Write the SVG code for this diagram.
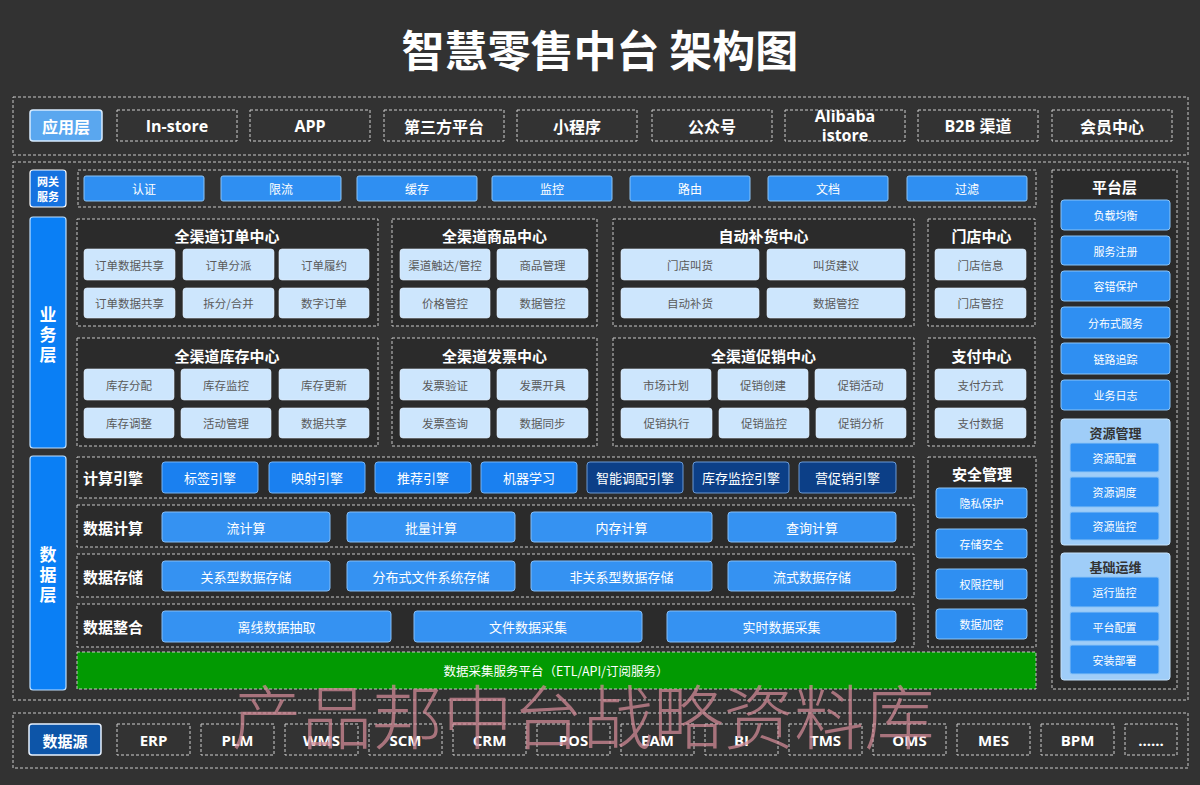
<svg xmlns="http://www.w3.org/2000/svg" width="1200" height="785" viewBox="0 0 1200 785">
<style>
text{font-family:"Noto Sans CJK SC","Open Sans",sans-serif;text-anchor:middle;dominant-baseline:central}
.lat{font-family:"Open Sans","Noto Sans CJK SC",sans-serif}
.dash{fill:none;stroke:#c8c8c8;stroke-width:1;stroke-dasharray:3 2}
.dbox{fill:#2b2b2b;stroke:#c8c8c8;stroke-width:1;stroke-dasharray:3 2}
.app{fill:#333;stroke:#cfcfcf;stroke-width:1;stroke-dasharray:3 2}
.appt{fill:#fff;font-size:16px;font-weight:700}
.gw{fill:#2f8ff2;stroke:#8cc4f7;stroke-width:1}
.wt{fill:#fff;font-size:12px}
.lt{fill:#cde6fd;stroke:#e6f2ff;stroke-width:0.6}
.ltt{fill:#5a5a5a;font-size:11.5px}
.ctitle{fill:#fff;font-size:15px;font-weight:700}
.rowlab{fill:#fff;font-size:15px;font-weight:700}
.eng{fill:#1a80f0;stroke:#75b3f5;stroke-width:1}
.engd{fill:#0c3f87;stroke:#6a9ad6;stroke-width:1}
.dat{fill:#3592f2;stroke:#85bdf6;stroke-width:1}
.panel{fill:#9fcdf8;stroke:#c5e2fb;stroke-width:1}
.pt{fill:#fff;font-size:11px}
</style>
<rect x="0" y="0" width="1200" height="785" fill="#323232"/>

<text id="title" x="600" y="48" style="fill:#fff;font-size:43px;font-weight:700">智慧零售中台 架构图</text>

<!-- application layer -->
<g id="app-layer">
<rect class="dash" x="13" y="97" width="1175" height="58"/>
<rect x="30" y="110" width="72" height="31" rx="3" fill="#5aa7ef" stroke="#d8ecff" stroke-width="1.5"/>
<text x="66" y="126" style="fill:#fff;font-size:16px;font-weight:700">应用层</text>
<g id="app-instore"><rect class="app" x="117" y="110" width="120" height="31"/><text class="appt lat" x="177" y="126">In-store</text></g>
<g id="app-app"><rect class="app" x="250" y="110" width="120" height="31"/><text class="appt lat" x="310" y="126">APP</text></g>
<g id="app-3rd"><rect class="app" x="384" y="110" width="120" height="31"/><text class="appt" x="444" y="126">第三方平台</text></g>
<g id="app-mini"><rect class="app" x="517" y="110" width="120" height="31"/><text class="appt" x="577" y="126">小程序</text></g>
<g id="app-gzh"><rect class="app" x="652" y="110" width="120" height="31"/><text class="appt" x="712" y="126">公众号</text></g>
<g id="app-ali"><rect class="app" x="785" y="110" width="120" height="31"/><text class="appt lat" x="845" y="116">Alibaba</text><text class="appt lat" x="845" y="135">istore</text></g>
<g id="app-b2b"><rect class="app" x="918" y="110" width="120" height="31"/><text class="appt lat" x="978" y="126">B2B 渠道</text></g>
<g id="app-member"><rect class="app" x="1052" y="110" width="120" height="31"/><text class="appt" x="1112" y="126">会员中心</text></g>
</g>

<!-- middle outer -->
<rect class="dash" x="13" y="162" width="1175" height="538"/>

<!-- gateway -->
<g id="gateway">
<rect x="30" y="170" width="36" height="37" rx="3" fill="#1572e0" stroke="#ffffff" stroke-width="1.2"/>
<text x="48" y="181" style="fill:#fff;font-size:11px;font-weight:700">网关</text>
<text x="48" y="196" style="fill:#fff;font-size:11px;font-weight:700">服务</text>
<rect class="dash" x="78" y="170" width="958" height="37"/>
<rect class="gw" x="84" y="176" width="120" height="25" rx="2"/><text class="wt" x="144" y="188.5">认证</text>
<rect class="gw" x="221" y="176" width="120" height="25" rx="2"/><text class="wt" x="281" y="188.5">限流</text>
<rect class="gw" x="357" y="176" width="120" height="25" rx="2"/><text class="wt" x="417" y="188.5">缓存</text>
<rect class="gw" x="492" y="176" width="120" height="25" rx="2"/><text class="wt" x="552" y="188.5">监控</text>
<rect class="gw" x="630" y="176" width="120" height="25" rx="2"/><text class="wt" x="690" y="188.5">路由</text>
<rect class="gw" x="768" y="176" width="120" height="25" rx="2"/><text class="wt" x="828" y="188.5">文档</text>
<rect class="gw" x="907" y="176" width="120" height="25" rx="2"/><text class="wt" x="967" y="188.5">过滤</text>
</g>

<!-- business layer label -->
<g id="biz-label">
<rect x="30" y="217" width="36" height="231" rx="3" fill="#0a7ff5" stroke="#bfe0ff" stroke-width="1.2"/>
<text x="48" y="313" style="fill:#fff;font-size:17px;font-weight:700">业</text>
<text x="48" y="333" style="fill:#fff;font-size:17px;font-weight:700">务</text>
<text x="48" y="353" style="fill:#fff;font-size:17px;font-weight:700">层</text>
</g>

<g id="order-center">
<rect class="dbox" x="77" y="219" width="301" height="107"/>
<text class="ctitle" x="227" y="235">全渠道订单中心</text>
<rect class="lt" x="84" y="249" width="91" height="31" rx="3"/><text class="ltt" x="129.5" y="265">订单数据共享</text>
<rect class="lt" x="183" y="249" width="91" height="31" rx="3"/><text class="ltt" x="228.5" y="265">订单分派</text>
<rect class="lt" x="279" y="249" width="90" height="31" rx="3"/><text class="ltt" x="324" y="265">订单履约</text>
<rect class="lt" x="84" y="288" width="91" height="30" rx="3"/><text class="ltt" x="129.5" y="303">订单数据共享</text>
<rect class="lt" x="183" y="288" width="91" height="30" rx="3"/><text class="ltt" x="228.5" y="303">拆分/合并</text>
<rect class="lt" x="279" y="288" width="90" height="30" rx="3"/><text class="ltt" x="324" y="303">数字订单</text>
</g>

<g id="goods-center">
<rect class="dbox" x="392" y="219" width="205" height="107"/>
<text class="ctitle" x="494.5" y="235">全渠道商品中心</text>
<rect class="lt" x="400" y="249" width="90" height="31" rx="3"/><text class="ltt" x="445" y="265">渠道触达/管控</text>
<rect class="lt" x="497" y="249" width="91" height="31" rx="3"/><text class="ltt" x="542.5" y="265">商品管理</text>
<rect class="lt" x="400" y="288" width="90" height="30" rx="3"/><text class="ltt" x="445" y="303">价格管控</text>
<rect class="lt" x="497" y="288" width="91" height="30" rx="3"/><text class="ltt" x="542.5" y="303">数据管控</text>
</g>

<g id="replenish-center">
<rect class="dbox" x="613" y="219" width="301" height="107"/>
<text class="ctitle" x="763.5" y="235">自动补货中心</text>
<rect class="lt" x="621" y="249" width="138" height="31" rx="3"/><text class="ltt" x="690" y="265">门店叫货</text>
<rect class="lt" x="767" y="249" width="138" height="31" rx="3"/><text class="ltt" x="836" y="265">叫货建议</text>
<rect class="lt" x="621" y="288" width="138" height="30" rx="3"/><text class="ltt" x="690" y="303">自动补货</text>
<rect class="lt" x="767" y="288" width="138" height="30" rx="3"/><text class="ltt" x="836" y="303">数据管控</text>
</g>

<g id="store-center">
<rect class="dbox" x="928" y="219" width="107" height="107"/>
<text class="ctitle" x="981.5" y="235">门店中心</text>
<rect class="lt" x="935" y="249" width="91" height="31" rx="3"/><text class="ltt" x="980.5" y="265">门店信息</text>
<rect class="lt" x="935" y="288" width="91" height="30" rx="3"/><text class="ltt" x="980.5" y="303">门店管控</text>
</g>

<g id="stock-center">
<rect class="dbox" x="77" y="338" width="301" height="108"/>
<text class="ctitle" x="227" y="355">全渠道库存中心</text>
<rect class="lt" x="84" y="369" width="90" height="31" rx="3"/><text class="ltt" x="129" y="385">库存分配</text>
<rect class="lt" x="181" y="369" width="90" height="31" rx="3"/><text class="ltt" x="226" y="385">库存监控</text>
<rect class="lt" x="279" y="369" width="90" height="31" rx="3"/><text class="ltt" x="324" y="385">库存更新</text>
<rect class="lt" x="84" y="408" width="90" height="30" rx="3"/><text class="ltt" x="129" y="423">库存调整</text>
<rect class="lt" x="181" y="408" width="90" height="30" rx="3"/><text class="ltt" x="226" y="423">活动管理</text>
<rect class="lt" x="279" y="408" width="90" height="30" rx="3"/><text class="ltt" x="324" y="423">数据共享</text>
</g>

<g id="invoice-center">
<rect class="dbox" x="392" y="338" width="205" height="108"/>
<text class="ctitle" x="494.5" y="355">全渠道发票中心</text>
<rect class="lt" x="400" y="369" width="90" height="31" rx="3"/><text class="ltt" x="445" y="385">发票验证</text>
<rect class="lt" x="497" y="369" width="91" height="31" rx="3"/><text class="ltt" x="542.5" y="385">发票开具</text>
<rect class="lt" x="400" y="408" width="90" height="30" rx="3"/><text class="ltt" x="445" y="423">发票查询</text>
<rect class="lt" x="497" y="408" width="91" height="30" rx="3"/><text class="ltt" x="542.5" y="423">数据同步</text>
</g>

<g id="promo-center">
<rect class="dbox" x="613" y="338" width="301" height="108"/>
<text class="ctitle" x="763.5" y="355">全渠道促销中心</text>
<rect class="lt" x="621" y="369" width="90" height="31" rx="3"/><text class="ltt" x="666" y="385">市场计划</text>
<rect class="lt" x="718" y="369" width="90" height="31" rx="3"/><text class="ltt" x="763" y="385">促销创建</text>
<rect class="lt" x="815" y="369" width="91" height="31" rx="3"/><text class="ltt" x="860.5" y="385">促销活动</text>
<rect class="lt" x="621" y="408" width="91" height="30" rx="3"/><text class="ltt" x="666.5" y="423">促销执行</text>
<rect class="lt" x="719" y="408" width="90" height="30" rx="3"/><text class="ltt" x="764" y="423">促销监控</text>
<rect class="lt" x="816" y="408" width="90" height="30" rx="3"/><text class="ltt" x="861" y="423">促销分析</text>
</g>

<g id="pay-center">
<rect class="dbox" x="928" y="338" width="107" height="108"/>
<text class="ctitle" x="981.5" y="355">支付中心</text>
<rect class="lt" x="935" y="369" width="91" height="31" rx="3"/><text class="ltt" x="980.5" y="385">支付方式</text>
<rect class="lt" x="935" y="408" width="91" height="30" rx="3"/><text class="ltt" x="980.5" y="423">支付数据</text>
</g>

<!-- data layer label -->
<g id="data-label">
<rect x="30" y="456" width="36" height="234" rx="3" fill="#0a7ff5" stroke="#bfe0ff" stroke-width="1.2"/>
<text x="48" y="553" style="fill:#fff;font-size:17px;font-weight:700">数</text>
<text x="48" y="573" style="fill:#fff;font-size:17px;font-weight:700">据</text>
<text x="48" y="593" style="fill:#fff;font-size:17px;font-weight:700">层</text>
</g>

<g id="compute-engine">
<rect class="dbox" x="77" y="457" width="837" height="41"/>
<text class="rowlab" x="113" y="477">计算引擎</text>
<rect class="eng" x="162" y="462" width="96" height="31" rx="3"/><text class="wt" x="210" y="477.5" style="font-size:13px">标签引擎</text>
<rect class="eng" x="269" y="462" width="96" height="31" rx="3"/><text class="wt" x="317" y="477.5" style="font-size:13px">映射引擎</text>
<rect class="eng" x="375" y="462" width="96" height="31" rx="3"/><text class="wt" x="423" y="477.5" style="font-size:13px">推荐引擎</text>
<rect class="eng" x="481" y="462" width="96" height="31" rx="3"/><text class="wt" x="529" y="477.5" style="font-size:13px">机器学习</text>
<rect class="engd" x="587" y="462" width="96" height="31" rx="3"/><text class="wt" x="635" y="477.5" style="font-size:13px">智能调配引擎</text>
<rect class="engd" x="693" y="462" width="96" height="31" rx="3"/><text class="wt" x="741" y="477.5" style="font-size:13px">库存监控引擎</text>
<rect class="engd" x="799" y="462" width="97" height="31" rx="3"/><text class="wt" x="847.5" y="477.5" style="font-size:13px">营促销引擎</text>
</g>

<g id="data-compute">
<rect class="dbox" x="77" y="505" width="837" height="42"/>
<text class="rowlab" x="113" y="527">数据计算</text>
<rect class="dat" x="162" y="512" width="168" height="30" rx="3"/><text class="wt" x="246" y="527" style="font-size:13px">流计算</text>
<rect class="dat" x="347" y="512" width="168" height="30" rx="3"/><text class="wt" x="431" y="527" style="font-size:13px">批量计算</text>
<rect class="dat" x="531" y="512" width="181" height="30" rx="3"/><text class="wt" x="621.5" y="527" style="font-size:13px">内存计算</text>
<rect class="dat" x="728" y="512" width="168" height="30" rx="3"/><text class="wt" x="812" y="527" style="font-size:13px">查询计算</text>
</g>

<g id="data-storage">
<rect class="dbox" x="77" y="554" width="837" height="43"/>
<text class="rowlab" x="113" y="576">数据存储</text>
<rect class="dat" x="162" y="561" width="168" height="30" rx="3"/><text class="wt" x="246" y="576" style="font-size:13px">关系型数据存储</text>
<rect class="dat" x="347" y="561" width="168" height="30" rx="3"/><text class="wt" x="431" y="576" style="font-size:13px">分布式文件系统存储</text>
<rect class="dat" x="531" y="561" width="181" height="30" rx="3"/><text class="wt" x="621.5" y="576" style="font-size:13px">非关系型数据存储</text>
<rect class="dat" x="728" y="561" width="168" height="30" rx="3"/><text class="wt" x="812" y="576" style="font-size:13px">流式数据存储</text>
</g>

<g id="data-integration">
<rect class="dbox" x="77" y="604" width="837" height="43"/>
<text class="rowlab" x="113" y="626">数据整合</text>
<rect class="dat" x="162" y="611" width="229" height="31" rx="3"/><text class="wt" x="276.5" y="626.5" style="font-size:13px">离线数据抽取</text>
<rect class="dat" x="414" y="611" width="228" height="31" rx="3"/><text class="wt" x="528" y="626.5" style="font-size:13px">文件数据采集</text>
<rect class="dat" x="667" y="611" width="229" height="31" rx="3"/><text class="wt" x="781.5" y="626.5" style="font-size:13px">实时数据采集</text>
</g>

<g id="collect-platform">
<rect x="77" y="652" width="959" height="37" fill="#029a02" stroke="#c8c8c8" stroke-width="1" stroke-dasharray="3 2"/>
<text class="wt" x="556" y="670.5" style="font-size:12.5px">数据采集服务平台（ETL/API/订阅服务）</text>
</g>

<g id="security">
<rect class="dbox" x="928" y="457" width="108" height="190"/>
<text class="ctitle" x="982" y="473">安全管理</text>
<rect class="gw" x="936" y="488" width="91" height="30" rx="3"/><text class="pt" x="981.5" y="503">隐私保护</text>
<rect class="gw" x="936" y="529" width="91" height="29" rx="3"/><text class="pt" x="981.5" y="543.5">存储安全</text>
<rect class="gw" x="936" y="569" width="91" height="30" rx="3"/><text class="pt" x="981.5" y="584">权限控制</text>
<rect class="gw" x="936" y="609" width="91" height="30" rx="3"/><text class="pt" x="981.5" y="624">数据加密</text>
</g>

<g id="platform-layer">
<rect class="dbox" x="1052" y="170" width="125" height="519"/>
<text class="ctitle" x="1114.5" y="186">平台层</text>
<rect class="gw" x="1061" y="200" width="109" height="30" rx="3"/><text class="pt" x="1115.5" y="215">负载均衡</text>
<rect class="gw" x="1061" y="236" width="109" height="29" rx="3"/><text class="pt" x="1115.5" y="250.5">服务注册</text>
<rect class="gw" x="1061" y="271" width="109" height="30" rx="3"/><text class="pt" x="1115.5" y="286">容错保护</text>
<rect class="gw" x="1061" y="307" width="109" height="31" rx="3"/><text class="pt" x="1115.5" y="322.5">分布式服务</text>
<rect class="gw" x="1061" y="343" width="109" height="31" rx="3"/><text class="pt" x="1115.5" y="358.5">链路追踪</text>
<rect class="gw" x="1061" y="380" width="109" height="30" rx="3"/><text class="pt" x="1115.5" y="395">业务日志</text>
<g id="resource-mgmt">
<rect class="panel" x="1061" y="419" width="109" height="126" rx="3"/>
<text x="1115.5" y="432" style="fill:#333;font-size:13px;font-weight:700">资源管理</text>
<rect class="gw" x="1070" y="443" width="89" height="29" rx="2"/><text class="pt" x="1114.5" y="457.5">资源配置</text>
<rect class="gw" x="1070" y="477" width="89" height="30" rx="2"/><text class="pt" x="1114.5" y="492">资源调度</text>
<rect class="gw" x="1070" y="512" width="89" height="28" rx="2"/><text class="pt" x="1114.5" y="526">资源监控</text>
</g>
<g id="ops">
<rect class="panel" x="1061" y="553" width="109" height="127" rx="3"/>
<text x="1115.5" y="566" style="fill:#333;font-size:13px;font-weight:700">基础运维</text>
<rect class="gw" x="1070" y="577" width="89" height="30" rx="2"/><text class="pt" x="1114.5" y="592">运行监控</text>
<rect class="gw" x="1070" y="612" width="89" height="29" rx="2"/><text class="pt" x="1114.5" y="626.5">平台配置</text>
<rect class="gw" x="1070" y="645" width="89" height="29" rx="2"/><text class="pt" x="1114.5" y="659.5">安装部署</text>
</g>
</g>

<!-- data sources -->
<g id="data-source">
<rect class="dash" x="13" y="713" width="1175" height="55"/>
<rect x="29" y="724" width="72" height="31" rx="3" fill="#0d55a8" stroke="#e8f2ff" stroke-width="1.5"/>
<text x="65" y="740" style="fill:#fff;font-size:15px;font-weight:700">数据源</text>
<g class="lat">
<rect class="app" x="117" y="724" width="73" height="31"/><text class="appt lat" x="153.5" y="740" style="font-size:15px">ERP</text>
<rect class="app" x="201" y="724" width="73" height="31"/><text class="appt lat" x="237.5" y="740" style="font-size:15px">PLM</text>
<rect class="app" x="285" y="724" width="73" height="31"/><text class="appt lat" x="321.5" y="740" style="font-size:15px">WMS</text>
<rect class="app" x="369" y="724" width="73" height="31"/><text class="appt lat" x="405.5" y="740" style="font-size:15px">SCM</text>
<rect class="app" x="453" y="724" width="73" height="31"/><text class="appt lat" x="489.5" y="740" style="font-size:15px">CRM</text>
<rect class="app" x="537" y="724" width="73" height="31"/><text class="appt lat" x="573.5" y="740" style="font-size:15px">POS</text>
<rect class="app" x="621" y="724" width="73" height="31"/><text class="appt lat" x="657.5" y="740" style="font-size:15px">EAM</text>
<rect class="app" x="705" y="724" width="73" height="31"/><text class="appt lat" x="741.5" y="740" style="font-size:15px">BI</text>
<rect class="app" x="789" y="724" width="73" height="31"/><text class="appt lat" x="825.5" y="740" style="font-size:15px">TMS</text>
<rect class="app" x="873" y="724" width="73" height="31"/><text class="appt lat" x="909.5" y="740" style="font-size:15px">OMS</text>
<rect class="app" x="957" y="724" width="73" height="31"/><text class="appt lat" x="993.5" y="740" style="font-size:15px">MES</text>
<rect class="app" x="1041" y="724" width="73" height="31"/><text class="appt lat" x="1077.5" y="740" style="font-size:15px">BPM</text>
<rect class="app" x="1125" y="724" width="52" height="31"/><text class="appt lat" x="1151" y="740" style="font-size:15px">......</text>
</g>
</g>

<!-- watermark -->
<text id="watermark" x="583" y="713" textLength="703" lengthAdjust="spacingAndGlyphs" style="fill:#d08a96;fill-opacity:0.75;font-size:70px;font-weight:300">产品邦中台战略资料库</text>
</svg>
